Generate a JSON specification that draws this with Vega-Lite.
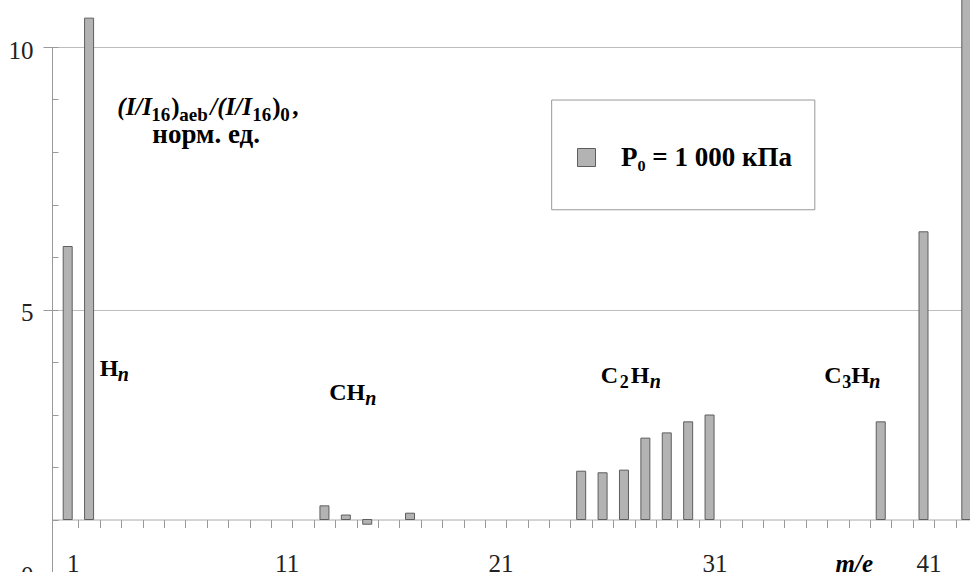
{
  "$schema": "https://vega.github.io/schema/vega-lite/v6.json",
  "width": 930,
  "height": 525,
  "autosize": "none",
  "padding": {"left": 52, "top": 47, "right": 0, "bottom": 0},
  "background": "white",
  "config": {"view": {"stroke": null}, "font": "Liberation Serif"},
  "data": {"values": [
    {"me": 1, "value": 6.2, "series": "P₀ = 1 000 кПа"},
    {"me": 2, "value": 10.55, "series": "P₀ = 1 000 кПа"},
    {"me": 13, "value": 1.26, "series": "P₀ = 1 000 кПа"},
    {"me": 14, "value": 1.085, "series": "P₀ = 1 000 кПа"},
    {"me": 15, "value": 0.91, "series": "P₀ = 1 000 кПа"},
    {"me": 17, "value": 1.12, "series": "P₀ = 1 000 кПа"},
    {"me": 25, "value": 1.92, "series": "P₀ = 1 000 кПа"},
    {"me": 26, "value": 1.89, "series": "P₀ = 1 000 кПа"},
    {"me": 27, "value": 1.94, "series": "P₀ = 1 000 кПа"},
    {"me": 28, "value": 2.55, "series": "P₀ = 1 000 кПа"},
    {"me": 29, "value": 2.65, "series": "P₀ = 1 000 кПа"},
    {"me": 30, "value": 2.86, "series": "P₀ = 1 000 кПа"},
    {"me": 31, "value": 2.99, "series": "P₀ = 1 000 кПа"},
    {"me": 39, "value": 2.86, "series": "P₀ = 1 000 кПа"},
    {"me": 41, "value": 6.48, "series": "P₀ = 1 000 кПа"},
    {"me": 43, "value": 11.2, "series": "P₀ = 1 000 кПа"}
  ]},
  "resolve": {"axis": {"x": "independent", "y": "independent"}},
  "layer": [
    {
      "mark": {"type": "bar", "size": 9, "stroke": "#5e5e5e", "strokeWidth": 1},
      "encoding": {
        "x": {"field": "me", "type": "quantitative",
          "scale": {"domain": [0.5, 43.5], "nice": false, "zero": false},
          "axis": {"orient": "bottom", "values": [1, 11, 21, 31, 41], "ticks": false, "domain": false, "grid": false,
            "labelBaseline": "alphabetic", "labelPadding": -1, "labelOffset": 5, "labelFontSize": 25,
            "labelFont": "Liberation Serif", "labelColor": "#222", "labelFlush": false, "labelOverlap": false, "format": "d",
            "title": "m/e", "titleFont": "Liberation Serif", "titleFontStyle": "italic", "titleFontWeight": "bold",
            "titleFontSize": 25, "titleX": 783, "titleY": -1, "titleAlign": "left", "titleBaseline": "alphabetic",
            "titleColor": "#000", "titleAnchor": "start"}},
        "y": {"field": "value", "type": "quantitative",
          "scale": {"domain": [0, 10], "nice": false, "zero": false},
          "axis": {"orient": "left", "values": [0, 5, 10], "grid": true, "gridColor": "#bdbdbd", "gridWidth": 1,
            "tickSize": 9, "tickColor": "#999", "domainColor": "#999", "labelFontSize": 25, "labelColor": "#222",
            "labelFont": "Liberation Serif", "labelPadding": 10, "labelOffset": 3, "title": null, "format": "d",
            "labelOverlap": false, "labelFlush": false}},
        "y2": {"datum": 1},
        "fill": {"field": "series", "type": "nominal", "scale": {"range": ["#b3b3b3"]},
          "legend": {"orient": "none", "legendX": 521, "legendY": 97, "title": null, "padding": 0,
            "symbolType": "square", "symbolSize": 324, "symbolStrokeColor": "#5e5e5e", "symbolStrokeWidth": 1,
            "symbolFillColor": "#b3b3b3",
            "labelFont": "Liberation Serif", "labelFontSize": 27, "labelFontWeight": "bold", "labelColor": "#000",
            "labelOffset": 21, "labelLimit": 0}}
      }
    },
    {
      "data": {"values": [{}]},
      "mark": {"type": "rect", "fill": null, "stroke": "#999", "strokeWidth": 1},
      "encoding": {
        "x": {"datum": 23.62, "type": "quantitative", "scale": {"domain": [0.5, 43.5], "nice": false, "zero": false},
          "axis": {"orient": "bottom", "offset": -52.5,
            "values": [1.5,2.5,3.5,4.5,5.5,6.5,7.5,8.5,9.5,10.5,11.5,12.5,13.5,14.5,15.5,16.5,17.5,18.5,19.5,20.5,21.5,22.5,23.5,24.5,25.5,26.5,27.5,28.5,29.5,30.5,31.5,32.5,33.5,34.5,35.5,36.5,37.5,38.5,39.5,40.5,41.5,42.5],
            "tickSize": 8, "labels": false, "domain": true, "domainColor": "#aaa", "tickColor": "#999", "grid": false, "title": null}},
        "x2": {"datum": 35.92},
        "y": {"datum": 8.99, "type": "quantitative", "scale": {"domain": [0, 10], "nice": false, "zero": false},
          "axis": {"orient": "left", "values": [0,1,2,3,4,5,6,7,8,9,10], "tickSize": -6, "labels": false,
            "domain": false, "grid": false, "tickColor": "#999", "title": null}},
        "y2": {"datum": 6.9}
      }
    },
    {"data": {"values": [{}]}, "mark": {"type": "text", "text": "(I/I", "font": "Liberation Serif", "fontWeight": "bold", "fontStyle": "italic", "fontSize": 25, "align": "left", "baseline": "alphabetic", "fill": "#000", "dx": 0, "dy": 0},
      "encoding": {"x": {"datum": 3.32, "type": "quantitative", "scale": {"domain": [0.5, 43.5], "nice": false, "zero": false}, "axis": null},
        "y": {"datum": 8.705, "type": "quantitative", "scale": {"domain": [0, 10], "nice": false, "zero": false}, "axis": null}}},
    {"data": {"values": [{}]}, "mark": {"type": "text", "text": "16", "font": "Liberation Serif", "fontWeight": "bold", "fontSize": 19, "align": "left", "baseline": "alphabetic", "fill": "#000", "dx": 34, "dy": 6},
      "encoding": {"x": {"datum": 3.32, "type": "quantitative", "scale": {"domain": [0.5, 43.5], "nice": false, "zero": false}, "axis": null},
        "y": {"datum": 8.705, "type": "quantitative", "scale": {"domain": [0, 10], "nice": false, "zero": false}, "axis": null}}},
    {"data": {"values": [{}]}, "mark": {"type": "text", "text": ")", "font": "Liberation Serif", "fontWeight": "bold", "fontSize": 25, "align": "left", "baseline": "alphabetic", "fill": "#000", "dx": 54, "dy": 0},
      "encoding": {"x": {"datum": 3.32, "type": "quantitative", "scale": {"domain": [0.5, 43.5], "nice": false, "zero": false}, "axis": null},
        "y": {"datum": 8.705, "type": "quantitative", "scale": {"domain": [0, 10], "nice": false, "zero": false}, "axis": null}}},
    {"data": {"values": [{}]}, "mark": {"type": "text", "text": "aeb", "font": "Liberation Serif", "fontWeight": "bold", "fontSize": 19, "align": "left", "baseline": "alphabetic", "fill": "#000", "dx": 62, "dy": 6},
      "encoding": {"x": {"datum": 3.32, "type": "quantitative", "scale": {"domain": [0.5, 43.5], "nice": false, "zero": false}, "axis": null},
        "y": {"datum": 8.705, "type": "quantitative", "scale": {"domain": [0, 10], "nice": false, "zero": false}, "axis": null}}},
    {"data": {"values": [{}]}, "mark": {"type": "text", "text": "/(I/I", "font": "Liberation Serif", "fontWeight": "bold", "fontStyle": "italic", "fontSize": 25, "align": "left", "baseline": "alphabetic", "fill": "#000", "dx": 93, "dy": 0},
      "encoding": {"x": {"datum": 3.32, "type": "quantitative", "scale": {"domain": [0.5, 43.5], "nice": false, "zero": false}, "axis": null},
        "y": {"datum": 8.705, "type": "quantitative", "scale": {"domain": [0, 10], "nice": false, "zero": false}, "axis": null}}},
    {"data": {"values": [{}]}, "mark": {"type": "text", "text": "16", "font": "Liberation Serif", "fontWeight": "bold", "fontSize": 19, "align": "left", "baseline": "alphabetic", "fill": "#000", "dx": 135, "dy": 6},
      "encoding": {"x": {"datum": 3.32, "type": "quantitative", "scale": {"domain": [0.5, 43.5], "nice": false, "zero": false}, "axis": null},
        "y": {"datum": 8.705, "type": "quantitative", "scale": {"domain": [0, 10], "nice": false, "zero": false}, "axis": null}}},
    {"data": {"values": [{}]}, "mark": {"type": "text", "text": ")", "font": "Liberation Serif", "fontWeight": "bold", "fontSize": 25, "align": "left", "baseline": "alphabetic", "fill": "#000", "dx": 155, "dy": 0},
      "encoding": {"x": {"datum": 3.32, "type": "quantitative", "scale": {"domain": [0.5, 43.5], "nice": false, "zero": false}, "axis": null},
        "y": {"datum": 8.705, "type": "quantitative", "scale": {"domain": [0, 10], "nice": false, "zero": false}, "axis": null}}},
    {"data": {"values": [{}]}, "mark": {"type": "text", "text": "0", "font": "Liberation Serif", "fontWeight": "bold", "fontSize": 19, "align": "left", "baseline": "alphabetic", "fill": "#000", "dx": 163, "dy": 6},
      "encoding": {"x": {"datum": 3.32, "type": "quantitative", "scale": {"domain": [0.5, 43.5], "nice": false, "zero": false}, "axis": null},
        "y": {"datum": 8.705, "type": "quantitative", "scale": {"domain": [0, 10], "nice": false, "zero": false}, "axis": null}}},
    {"data": {"values": [{}]}, "mark": {"type": "text", "text": ",", "font": "Liberation Serif", "fontWeight": "bold", "fontSize": 25, "align": "left", "baseline": "alphabetic", "fill": "#000", "dx": 175, "dy": 0},
      "encoding": {"x": {"datum": 3.32, "type": "quantitative", "scale": {"domain": [0.5, 43.5], "nice": false, "zero": false}, "axis": null},
        "y": {"datum": 8.705, "type": "quantitative", "scale": {"domain": [0, 10], "nice": false, "zero": false}, "axis": null}}},
    {"data": {"values": [{}]}, "mark": {"type": "text", "text": "норм. ед.", "font": "Liberation Serif", "fontWeight": "bold", "fontSize": 27, "align": "left", "baseline": "alphabetic", "fill": "#000", "dx": 35, "dy": 28},
      "encoding": {"x": {"datum": 3.32, "type": "quantitative", "scale": {"domain": [0.5, 43.5], "nice": false, "zero": false}, "axis": null},
        "y": {"datum": 8.705, "type": "quantitative", "scale": {"domain": [0, 10], "nice": false, "zero": false}, "axis": null}}},
    {"data": {"values": [{}]}, "mark": {"type": "text", "text": "H", "font": "Liberation Serif", "fontWeight": "bold", "fontSize": 24, "align": "left", "baseline": "alphabetic", "fill": "#000", "dx": 0, "dy": 0},
      "encoding": {"x": {"datum": 2.5, "type": "quantitative", "scale": {"domain": [0.5, 43.5], "nice": false, "zero": false}, "axis": null},
        "y": {"datum": 3.733, "type": "quantitative", "scale": {"domain": [0, 10], "nice": false, "zero": false}, "axis": null}}},
    {"data": {"values": [{}]}, "mark": {"type": "text", "text": "n", "font": "Liberation Serif", "fontWeight": "bold", "fontStyle": "italic", "fontSize": 20, "align": "left", "baseline": "alphabetic", "fill": "#000", "dx": 18, "dy": 5},
      "encoding": {"x": {"datum": 2.5, "type": "quantitative", "scale": {"domain": [0.5, 43.5], "nice": false, "zero": false}, "axis": null},
        "y": {"datum": 3.733, "type": "quantitative", "scale": {"domain": [0, 10], "nice": false, "zero": false}, "axis": null}}},
    {"data": {"values": [{}]}, "mark": {"type": "text", "text": "CH", "font": "Liberation Serif", "fontWeight": "bold", "fontSize": 24, "align": "left", "baseline": "alphabetic", "fill": "#000", "dx": 0, "dy": 0},
      "encoding": {"x": {"datum": 13.22, "type": "quantitative", "scale": {"domain": [0.5, 43.5], "nice": false, "zero": false}, "axis": null},
        "y": {"datum": 3.276, "type": "quantitative", "scale": {"domain": [0, 10], "nice": false, "zero": false}, "axis": null}}},
    {"data": {"values": [{}]}, "mark": {"type": "text", "text": "n", "font": "Liberation Serif", "fontWeight": "bold", "fontStyle": "italic", "fontSize": 20, "align": "left", "baseline": "alphabetic", "fill": "#000", "dx": 36, "dy": 5},
      "encoding": {"x": {"datum": 13.22, "type": "quantitative", "scale": {"domain": [0.5, 43.5], "nice": false, "zero": false}, "axis": null},
        "y": {"datum": 3.276, "type": "quantitative", "scale": {"domain": [0, 10], "nice": false, "zero": false}, "axis": null}}},
    {"data": {"values": [{}]}, "mark": {"type": "text", "text": "C", "font": "Liberation Serif", "fontWeight": "bold", "fontSize": 24, "align": "left", "baseline": "alphabetic", "fill": "#000", "dx": 0, "dy": 0},
      "encoding": {"x": {"datum": 25.92, "type": "quantitative", "scale": {"domain": [0.5, 43.5], "nice": false, "zero": false}, "axis": null},
        "y": {"datum": 3.6, "type": "quantitative", "scale": {"domain": [0, 10], "nice": false, "zero": false}, "axis": null}}},
    {"data": {"values": [{}]}, "mark": {"type": "text", "text": "2", "font": "Liberation Serif", "fontWeight": "bold", "fontSize": 18, "align": "left", "baseline": "alphabetic", "fill": "#000", "dx": 19, "dy": 5},
      "encoding": {"x": {"datum": 25.92, "type": "quantitative", "scale": {"domain": [0.5, 43.5], "nice": false, "zero": false}, "axis": null},
        "y": {"datum": 3.6, "type": "quantitative", "scale": {"domain": [0, 10], "nice": false, "zero": false}, "axis": null}}},
    {"data": {"values": [{}]}, "mark": {"type": "text", "text": "H", "font": "Liberation Serif", "fontWeight": "bold", "fontSize": 24, "align": "left", "baseline": "alphabetic", "fill": "#000", "dx": 30, "dy": 0},
      "encoding": {"x": {"datum": 25.92, "type": "quantitative", "scale": {"domain": [0.5, 43.5], "nice": false, "zero": false}, "axis": null},
        "y": {"datum": 3.6, "type": "quantitative", "scale": {"domain": [0, 10], "nice": false, "zero": false}, "axis": null}}},
    {"data": {"values": [{}]}, "mark": {"type": "text", "text": "n", "font": "Liberation Serif", "fontWeight": "bold", "fontStyle": "italic", "fontSize": 20, "align": "left", "baseline": "alphabetic", "fill": "#000", "dx": 49, "dy": 5},
      "encoding": {"x": {"datum": 25.92, "type": "quantitative", "scale": {"domain": [0.5, 43.5], "nice": false, "zero": false}, "axis": null},
        "y": {"datum": 3.6, "type": "quantitative", "scale": {"domain": [0, 10], "nice": false, "zero": false}, "axis": null}}},
    {"data": {"values": [{}]}, "mark": {"type": "text", "text": "C", "font": "Liberation Serif", "fontWeight": "bold", "fontSize": 24, "align": "left", "baseline": "alphabetic", "fill": "#000", "dx": 0, "dy": 0},
      "encoding": {"x": {"datum": 36.36, "type": "quantitative", "scale": {"domain": [0.5, 43.5], "nice": false, "zero": false}, "axis": null},
        "y": {"datum": 3.6, "type": "quantitative", "scale": {"domain": [0, 10], "nice": false, "zero": false}, "axis": null}}},
    {"data": {"values": [{}]}, "mark": {"type": "text", "text": "3", "font": "Liberation Serif", "fontWeight": "bold", "fontSize": 18, "align": "left", "baseline": "alphabetic", "fill": "#000", "dx": 18, "dy": 5},
      "encoding": {"x": {"datum": 36.36, "type": "quantitative", "scale": {"domain": [0.5, 43.5], "nice": false, "zero": false}, "axis": null},
        "y": {"datum": 3.6, "type": "quantitative", "scale": {"domain": [0, 10], "nice": false, "zero": false}, "axis": null}}},
    {"data": {"values": [{}]}, "mark": {"type": "text", "text": "H", "font": "Liberation Serif", "fontWeight": "bold", "fontSize": 24, "align": "left", "baseline": "alphabetic", "fill": "#000", "dx": 27, "dy": 0},
      "encoding": {"x": {"datum": 36.36, "type": "quantitative", "scale": {"domain": [0.5, 43.5], "nice": false, "zero": false}, "axis": null},
        "y": {"datum": 3.6, "type": "quantitative", "scale": {"domain": [0, 10], "nice": false, "zero": false}, "axis": null}}},
    {"data": {"values": [{}]}, "mark": {"type": "text", "text": "n", "font": "Liberation Serif", "fontWeight": "bold", "fontStyle": "italic", "fontSize": 20, "align": "left", "baseline": "alphabetic", "fill": "#000", "dx": 45, "dy": 5},
      "encoding": {"x": {"datum": 36.36, "type": "quantitative", "scale": {"domain": [0.5, 43.5], "nice": false, "zero": false}, "axis": null},
        "y": {"datum": 3.6, "type": "quantitative", "scale": {"domain": [0, 10], "nice": false, "zero": false}, "axis": null}}}
  ]
}
